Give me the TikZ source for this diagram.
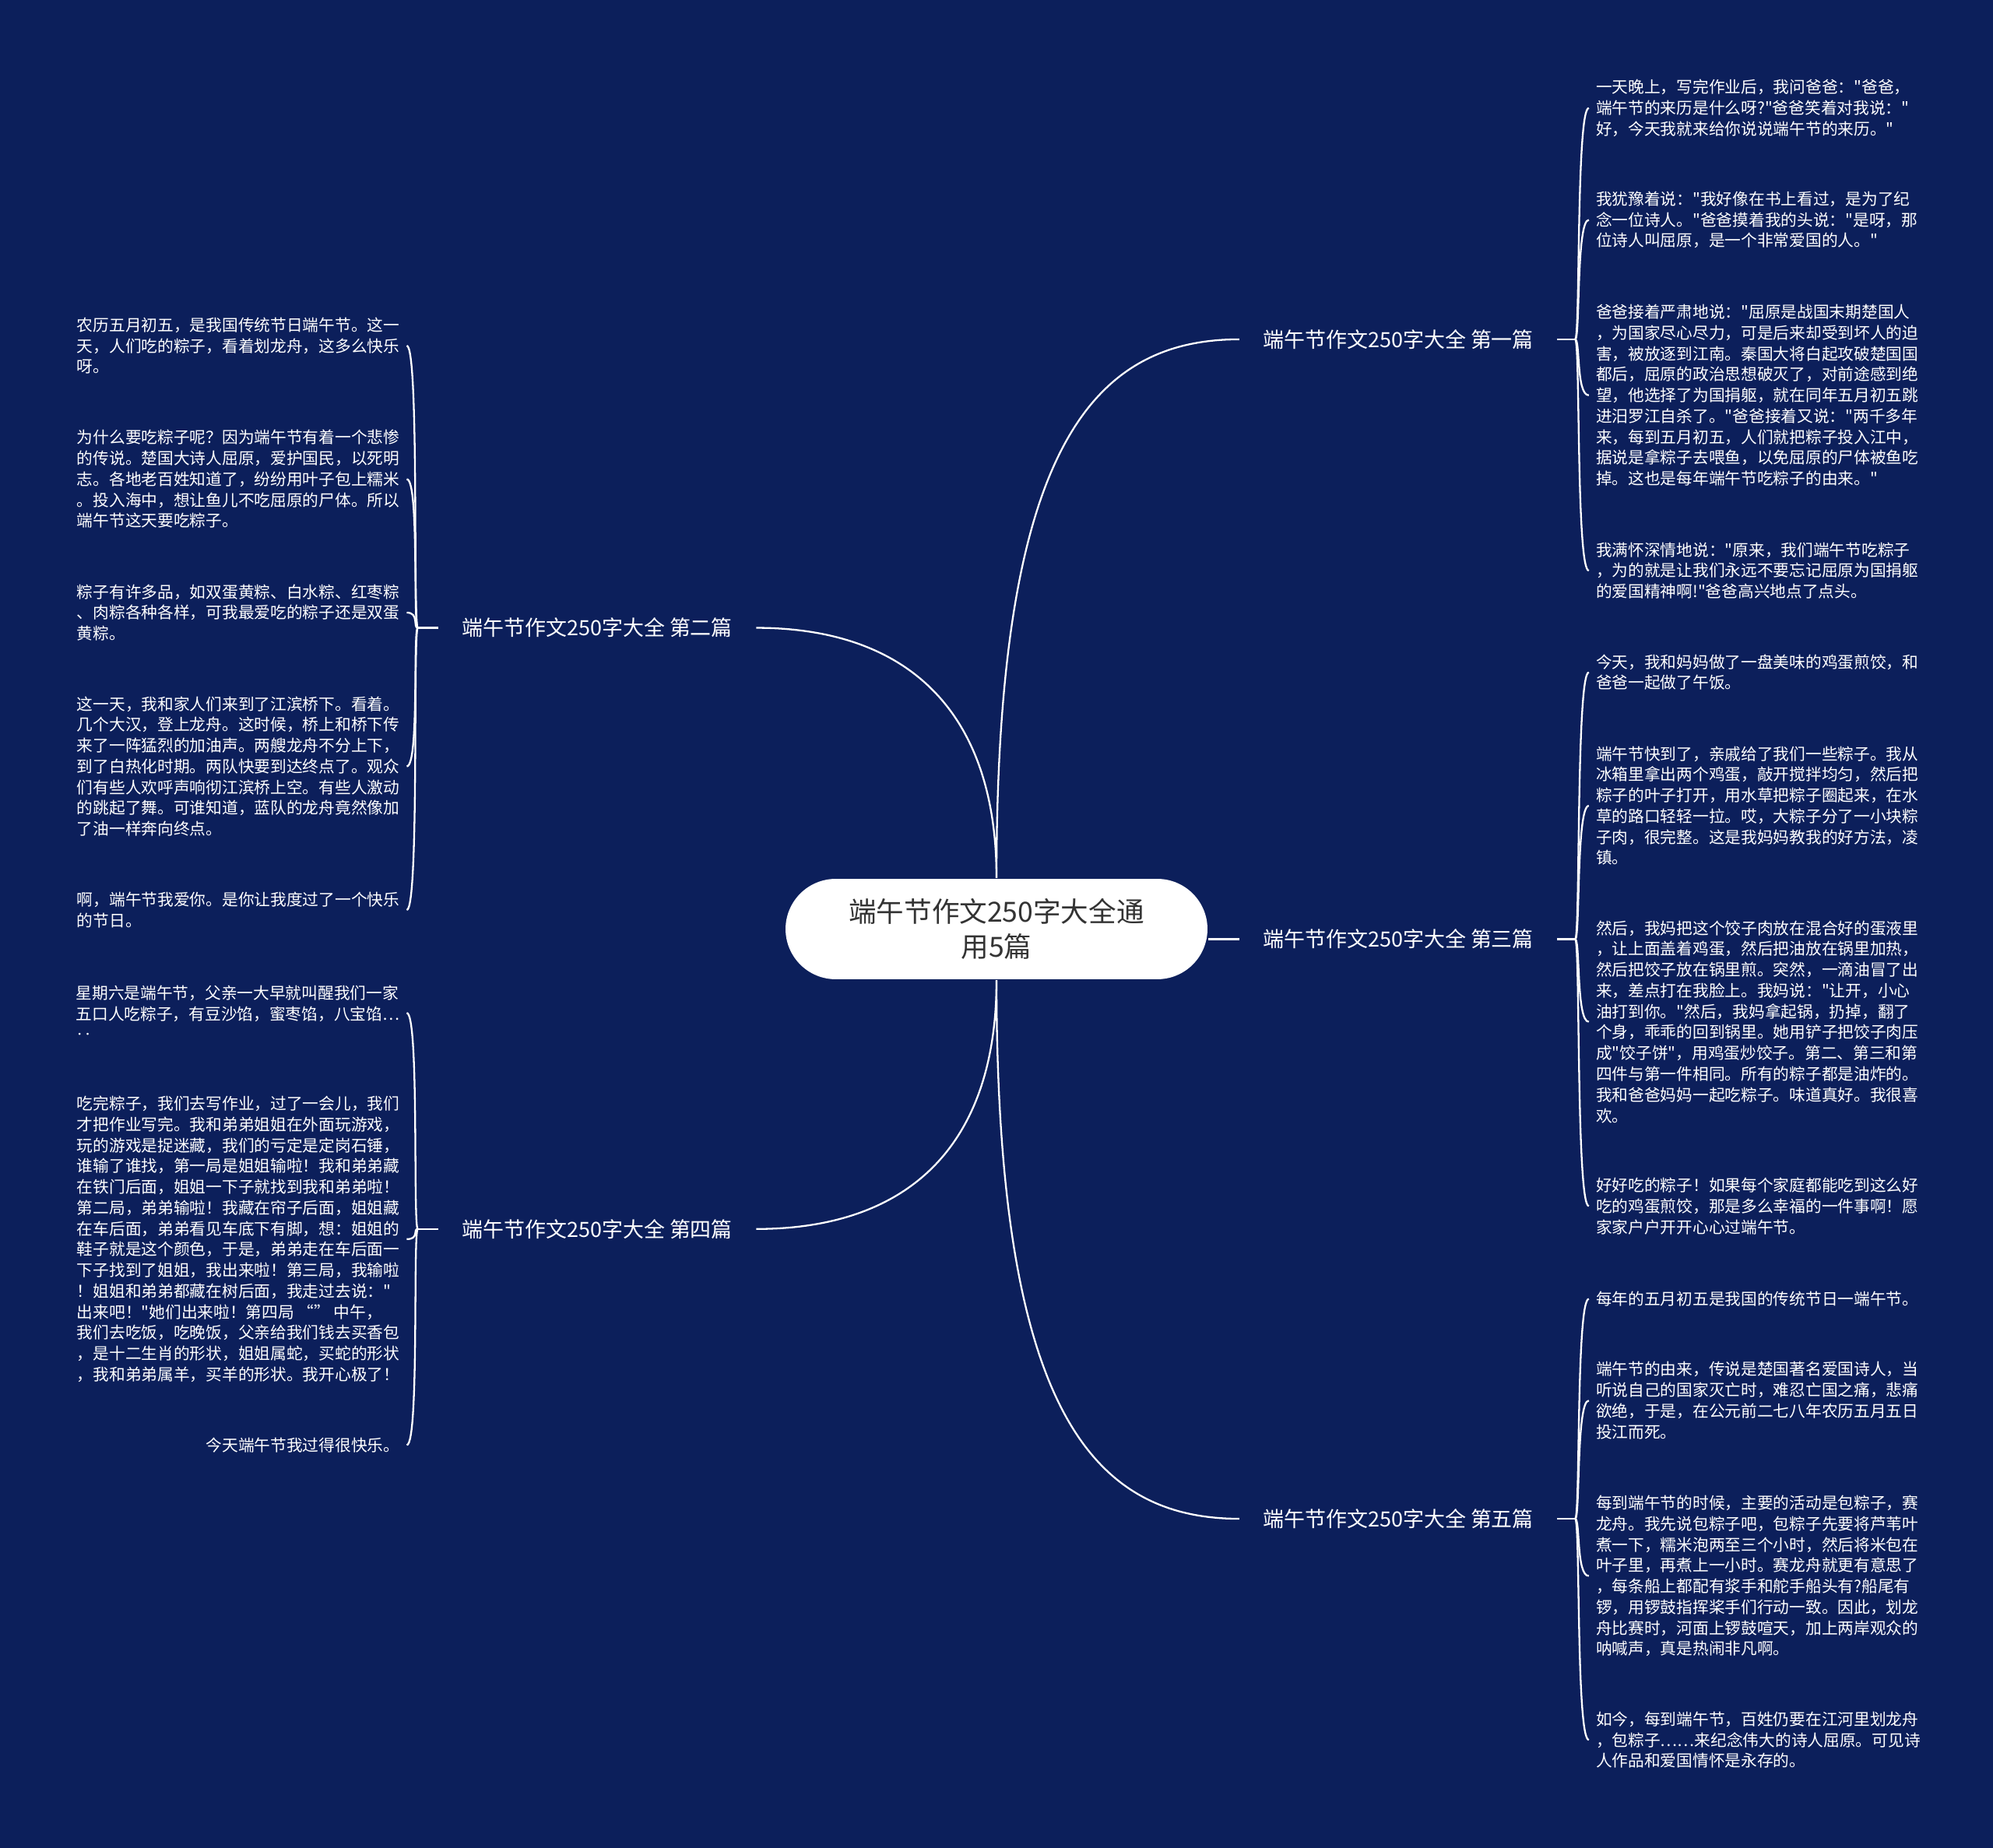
\documentclass[tikz,border=0pt]{standalone}
\usepackage{fontspec}
\setmainfont{Noto Sans CJK SC}[Ligatures=TeXOff]
\definecolor{fondo}{RGB}{12,31,91}
\definecolor{gristexto}{RGB}{51,51,51}

\begin{document}
\begin{tikzpicture}[x=0.02cm,y=-0.02cm,line width=0.8pt,
  raiz/.style={fill=white,rounded corners=0.79cm,minimum width=6.64cm,minimum height=1.58cm,
    align=center,text=gristexto,font=\fontsize{12.4}{15.9}\selectfont},
  rama/.style={text=white,inner xsep=0.36cm,inner ysep=2pt,font=\fontsize{9.4}{11}\selectfont},
  hoja/.style={text=white,inner sep=0pt,align=left,font=\fontsize{7.22}{9.33}\selectfont}]
  % fondo
  \fill[fondo] (0,0) rectangle (1568,1454);
  % raiz y ramas
  \node[raiz] (root) at (784,731) {端午节作文250字大全通\\用5篇};
  \node[rama,anchor=west] (b1) at (975,267) {端午节作文250字大全 第一篇};
  \node[rama,anchor=east] (b2) at (595,494) {端午节作文250字大全 第二篇};
  \node[rama,anchor=west] (b3) at (975,739) {端午节作文250字大全 第三篇};
  \node[rama,anchor=east] (b4) at (595,967) {端午节作文250字大全 第四篇};
  \node[rama,anchor=west] (b5) at (975,1195) {端午节作文250字大全 第五篇};
  \draw[white] (root.north) .. controls +(0,-330) and +(-120,0) .. (b1.west);
  \draw[white] (root.north) .. controls +(0,-130) and +(120,0) .. (b2.east);
  \draw[white] (root.east |- b3.west) -- (b3.west);
  \draw[white] (root.south) .. controls +(0,130) and +(120,0) .. (b4.east);
  \draw[white] (root.south) .. controls +(0,330) and +(-120,0) .. (b5.west);
  \draw[white] (b1.east) -- ++(14,0) coordinate (h1);
  \draw[white] (b2.west) -- ++(-16,0) coordinate (h2);
  \draw[white] (b3.east) -- ++(14,0) coordinate (h3);
  \draw[white] (b4.west) -- ++(-16,0) coordinate (h4);
  \draw[white] (b5.east) -- ++(14,0) coordinate (h5);
  % primera
  \node[hoja,anchor=west] (r1a) at (1255,85) {一天晚上，写完作业后，我问爸爸："爸爸，\\端午节的来历是什么呀?"爸爸笑着对我说："\\好，今天我就来给你说说端午节的来历。"};
  \node[hoja,anchor=west] (r1b) at (1255,173) {我犹豫着说："我好像在书上看过，是为了纪\\念一位诗人。"爸爸摸着我的头说："是呀，那\\位诗人叫屈原，是一个非常爱国的人。"};
  \node[hoja,anchor=west] (r1c) at (1255,311) {爸爸接着严肃地说："屈原是战国末期楚国人\\，为国家尽心尽力，可是后来却受到坏人的迫\\害，被放逐到江南。秦国大将白起攻破楚国国\\都后，屈原的政治思想破灭了，对前途感到绝\\望，他选择了为国捐躯，就在同年五月初五跳\\进汨罗江自杀了。"爸爸接着又说："两千多年\\来，每到五月初五，人们就把粽子投入江中，\\据说是拿粽子去喂鱼，以免屈原的尸体被鱼吃\\掉。这也是每年端午节吃粽子的由来。"};
  \node[hoja,anchor=west] (r1d) at (1255,449) {我满怀深情地说："原来，我们端午节吃粽子\\，为的就是让我们永远不要忘记屈原为国捐躯\\的爱国精神啊!"爸爸高兴地点了点头。};
  % segunda
  \node[hoja,anchor=east] (l2a) at (315,272) {农历五月初五，是我国传统节日端午节。这一\\天，人们吃的粽子，看着划龙舟，这多么快乐\\呀。};
  \node[hoja,anchor=east] (l2b) at (315,377) {为什么要吃粽子呢？因为端午节有着一个悲惨\\的传说。楚国大诗人屈原，爱护国民，以死明\\志。各地老百姓知道了，纷纷用叶子包上糯米\\。投入海中，想让鱼儿不吃屈原的尸体。所以\\端午节这天要吃粽子。};
  \node[hoja,anchor=east] (l2c) at (315,482) {粽子有许多品，如双蛋黄粽、白水粽、红枣粽\\、肉粽各种各样，可我最爱吃的粽子还是双蛋\\黄粽。};
  \node[hoja,anchor=east] (l2d) at (315,603) {这一天，我和家人们来到了江滨桥下。看着。\\几个大汉，登上龙舟。这时候，桥上和桥下传\\来了一阵猛烈的加油声。两艘龙舟不分上下，\\到了白热化时期。两队快要到达终点了。观众\\们有些人欢呼声响彻江滨桥上空。有些人激动\\的跳起了舞。可谁知道，蓝队的龙舟竟然像加\\了油一样奔向终点。};
  \node[hoja,anchor=east] (l2e) at (315,716) {啊，端午节我爱你。是你让我度过了一个快乐\\的节日。};
  % tercera
  \node[hoja,anchor=west] (r3a) at (1255,529) {今天，我和妈妈做了一盘美味的鸡蛋煎饺，和\\爸爸一起做了午饭。};
  \node[hoja,anchor=west] (r3b) at (1255,634) {端午节快到了，亲戚给了我们一些粽子。我从\\冰箱里拿出两个鸡蛋，敲开搅拌均匀，然后把\\粽子的叶子打开，用水草把粽子圈起来，在水\\草的路口轻轻一拉。哎，大粽子分了一小块粽\\子肉，很完整。这是我妈妈教我的好方法，凌\\镇。};
  \node[hoja,anchor=west] (r3c) at (1255,804) {然后，我妈把这个饺子肉放在混合好的蛋液里\\，让上面盖着鸡蛋，然后把油放在锅里加热，\\然后把饺子放在锅里煎。突然，一滴油冒了出\\来，差点打在我脸上。我妈说："让开，小心\\油打到你。"然后，我妈拿起锅，扔掉，翻了\\个身，乖乖的回到锅里。她用铲子把饺子肉压\\成"饺子饼"，用鸡蛋炒饺子。第二、第三和第\\四件与第一件相同。所有的粽子都是油炸的。\\我和爸爸妈妈一起吃粽子。味道真好。我很喜\\欢。};
  \node[hoja,anchor=west] (r3d) at (1255,949) {好好吃的粽子！如果每个家庭都能吃到这么好\\吃的鸡蛋煎饺，那是多么幸福的一件事啊！愿\\家家户户开开心心过端午节。};
  % cuarta
  \node[hoja,anchor=east] (l4a) at (315,797) {星期六是端午节，父亲一大早就叫醒我们一家\\五口人吃粽子，有豆沙馅，蜜枣馅，八宝馅…\\‥};
  \node[hoja,anchor=east] (l4b) at (315,975) {吃完粽子，我们去写作业，过了一会儿，我们\\才把作业写完。我和弟弟姐姐在外面玩游戏，\\玩的游戏是捉迷藏，我们的亏定是定岗石锤，\\谁输了谁找，第一局是姐姐输啦！我和弟弟藏\\在铁门后面，姐姐一下子就找到我和弟弟啦！\\第二局，弟弟输啦！我藏在帘子后面，姐姐藏\\在车后面，弟弟看见车底下有脚，想：姐姐的\\鞋子就是这个颜色，于是，弟弟走在车后面一\\下子找到了姐姐，我出来啦！第三局，我输啦\\！姐姐和弟弟都藏在树后面，我走过去说："\\出来吧！"她们出来啦！第四局 “” 中午，\\我们去吃饭，吃晚饭，父亲给我们钱去买香包\\，是十二生肖的形状，姐姐属蛇，买蛇的形状\\，我和弟弟属羊，买羊的形状。我开心极了！};
  \node[hoja,anchor=east] (l4c) at (315,1137) {今天端午节我过得很快乐。};
  % quinta
  \node[hoja,anchor=west] (r5a) at (1255,1022) {每年的五月初五是我国的传统节日一端午节。};
  \node[hoja,anchor=west] (r5b) at (1255,1102) {端午节的由来，传说是楚国著名爱国诗人，当\\听说自己的国家灭亡时，难忍亡国之痛，悲痛\\欲绝，于是，在公元前二七八年农历五月五日\\投江而死。};
  \node[hoja,anchor=west] (r5c) at (1255,1240) {每到端午节的时候，主要的活动是包粽子，赛\\龙舟。我先说包粽子吧，包粽子先要将芦苇叶\\煮一下，糯米泡两至三个小时，然后将米包在\\叶子里，再煮上一小时。赛龙舟就更有意思了\\，每条船上都配有浆手和舵手船头有?船尾有\\锣，用锣鼓指挥桨手们行动一致。因此，划龙\\舟比赛时，河面上锣鼓喧天，加上两岸观众的\\呐喊声，真是热闹非凡啊。};
  \node[hoja,anchor=west] (r5d) at (1255,1369) {如今，每到端午节，百姓仍要在江河里划龙舟\\，包粽子……来纪念伟大的诗人屈原。可见诗\\人作品和爱国情怀是永存的。};
  % llaves
  \foreach \h in {r1a,r1b,r1c,r1d}
    \draw[white] (h1) .. controls +(4,0) and +(-10,0) .. ([xshift=-0.1cm]\h.west);
  \foreach \h in {r3a,r3b,r3c,r3d}
    \draw[white] (h3) .. controls +(4,0) and +(-10,0) .. ([xshift=-0.1cm]\h.west);
  \foreach \h in {r5a,r5b,r5c,r5d}
    \draw[white] (h5) .. controls +(4,0) and +(-10,0) .. ([xshift=-0.1cm]\h.west);
  \foreach \h in {l2a,l2b,l2c,l2d,l2e}
    \draw[white] (h2) .. controls +(-4,0) and +(10,0) .. ([xshift=0.1cm]\h.east);
  \foreach \h in {l4a,l4b,l4c}
    \draw[white] (h4) .. controls +(-4,0) and +(10,0) .. ([xshift=0.1cm]\h.east);
\end{tikzpicture}
\end{document}
